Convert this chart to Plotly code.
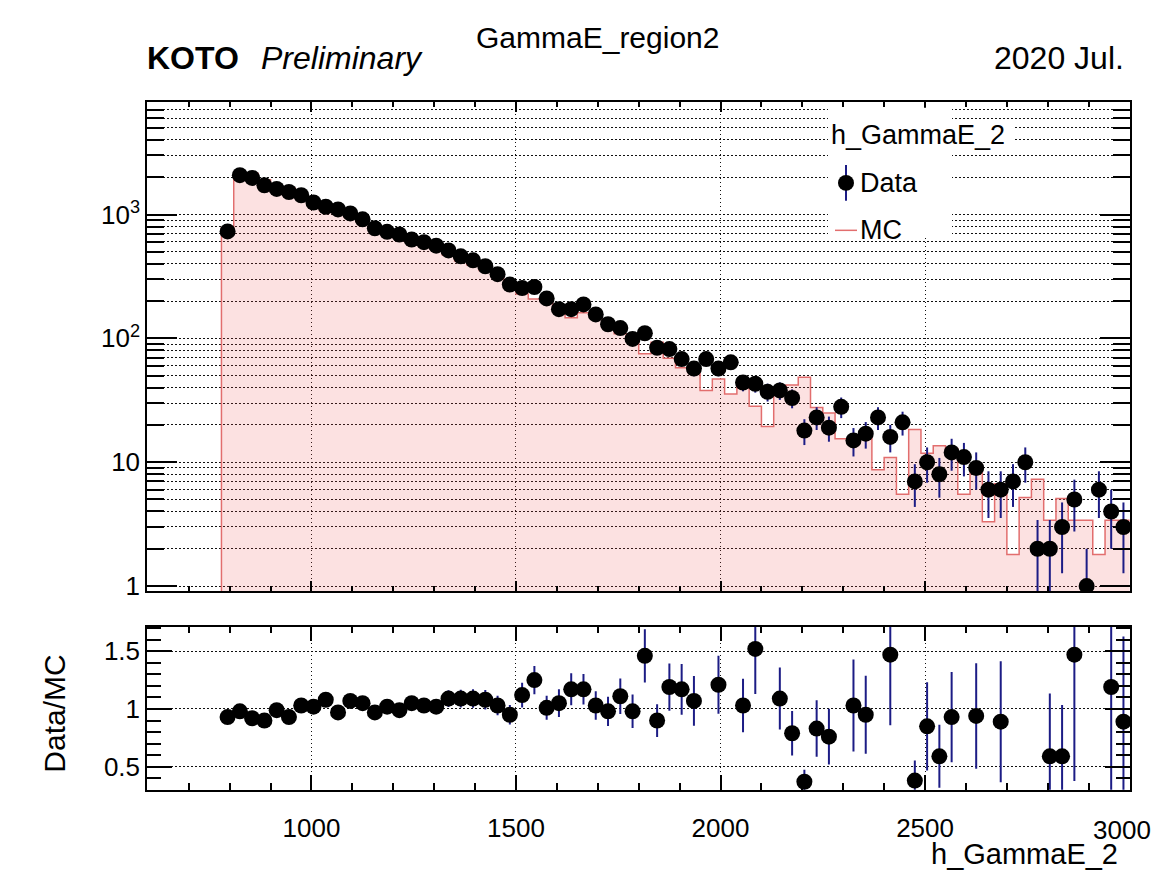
import math
import plotly.graph_objects as go

# ---------------- data ----------------
bin_edges = list(range(780, 3001, 30))          # 74 bins of width 30
bin_centers = [(a + b) / 2 for a, b in zip(bin_edges[:-1], bin_edges[1:])]

data = [730, 2080, 1975, 1720, 1610, 1520, 1430, 1250, 1155, 1100,
        1020, 915, 775, 725, 690, 628, 598, 560, 513, 460,
        427, 382, 330, 272, 255, 260, 210, 172, 172, 188,
        156, 130, 121, 99, 110, 84, 82, 68, 57, 68,
        57, 64, 44, 43, 37, 38, 33, 18, 23, 19,
        28, 15, 17, 23, 16, 21, 7, 10, 8, 12,
        11, 9, 6, 6, 7, 10, 2, 2, 3, 5,
        1, 6, 4, 3]

mc = [785, 2122, 2147, 1911, 1626, 1634, 1388, 1225, 1069, 1134,
      953, 871, 799, 711, 697, 598, 581, 549, 471, 422,
      392, 354, 320, 286, 228, 208, 208, 164, 147, 161,
      151, 133, 109, 101, 75, 93, 69, 58, 53, 38,
      47, 35.5, 43, 28.3, 19.4, 35, 42, 48.6, 27.7, 25,
      15.5, 14.6, 17.9, 8.7, 10.9, 5.5, 18.4, 11.8, 13.6, 12.9,
      5.5, 9.6, 3.3, 6.7, 1.8, 5.2, 7.3, 3.4, 5.1, 3.4,
      3.4, 1.8, 3.4, 3.4]

# Data/MC as drawn (None = outside the displayed range, not drawn)
ratio = [0.93, 0.98, 0.92, 0.90, 0.99, 0.93, 1.03, 1.02, 1.08, 0.97,
         1.07, 1.05, 0.97, 1.02, 0.99, 1.05, 1.03, 1.02, 1.09, 1.09,
         1.09, 1.08, 1.03, 0.95, 1.12, 1.25, 1.01, 1.05, 1.17, 1.17,
         1.03, 0.98, 1.11, 0.98, 1.46, 0.90, 1.19, 1.17, 1.07, None,
         1.21, None, 1.03, 1.52, None, 1.09, 0.79, 0.37, 0.83, 0.76,
         None, 1.03, 0.95, None, 1.47, None, 0.38, 0.85, 0.59, 0.93,
         None, 0.94, None, 0.89, None, None, None, 0.59, 0.59, 1.47,
         None, None, 1.19, 0.89]

MC_WEIGHT = 1.2   # effective MC event weight used for its statistical error

x_ticks = [1000, 1500, 2000, 2500, 3000]
x_tick_labels = ["1000", "1500", "2000", "2500", "3000"]
y_main_ticks = [1, 10, 100, 1000]
y_main_labels = ["1", "10", "10<sup>2</sup>", "10<sup>3</sup>"]
y_ratio_ticks = [0.5, 1, 1.5]
y_ratio_labels = ["0.5", "1", "1.5"]

# ---------------- layout helpers ----------------
W, H = 1158, 872
FONT = "Liberation Sans"
def fx(p): return p / W
def fy(p): return 1 - p / H

DATA_ERR_COLOR = "#1c1c85"
MC_LINE = "rgb(226,110,110)"
MC_FILL = "rgba(240,80,80,0.17)"
GRID = "#111111"
GRID_DASH = "1.5px,2.5px"
MSIZE = 16
X_RANGE = [598, 3001]

fig = go.Figure()

# MC histogram: filled step polygon + outline
YBOT = 0.3
px_, py_ = [bin_edges[0]], [YBOT]
for lo, hi, m in zip(bin_edges[:-1], bin_edges[1:], mc):
    px_ += [lo, hi]
    py_ += [m, m]
fig.add_trace(go.Scatter(x=px_ + [bin_edges[-1]], y=py_ + [YBOT], mode="lines",
                         fill="toself", fillcolor=MC_FILL, line=dict(width=0),
                         hoverinfo="skip", showlegend=False, xaxis="x", yaxis="y"))
fig.add_trace(go.Scatter(x=px_, y=py_, mode="lines",
                         line=dict(color=MC_LINE, width=1.5),
                         hoverinfo="skip", showlegend=False, xaxis="x", yaxis="y"))

# Data points with Poisson errors
err_up = [math.sqrt(n) for n in data]
err_dn = [min(math.sqrt(n), n - 0.001) for n in data]
fig.add_trace(go.Scatter(x=bin_centers, y=data, mode="markers",
                         marker=dict(color="black", size=MSIZE),
                         error_y=dict(type="data", array=err_up, arrayminus=err_dn,
                                      color=DATA_ERR_COLOR, thickness=2, width=0),
                         showlegend=False, xaxis="x", yaxis="y"))

# Ratio
r_err = [None if r is None else r * math.sqrt(1.0 / d + MC_WEIGHT / m)
         for r, d, m in zip(ratio, data, mc)]
fig.add_trace(go.Scatter(x=bin_centers, y=ratio, mode="markers",
                         marker=dict(color="black", size=MSIZE),
                         error_y=dict(type="data", array=r_err,
                                      color=DATA_ERR_COLOR, thickness=2, width=0),
                         showlegend=False, xaxis="x2", yaxis="y2"))

tickfont = dict(family=FONT, size=26, color="black")
common_x = dict(range=X_RANGE, tickmode="array", tickvals=x_ticks,
                ticks="inside", mirror="allticks", showline=True, linecolor="black",
                linewidth=1.5, tickcolor="black", tickwidth=1.5,
                showgrid=True, gridcolor=GRID, griddash=GRID_DASH, gridwidth=1,
                zeroline=False, tickfont=tickfont)

# the last label (3000) sits at the page edge; it is drawn as an annotation
ratio_ticktext = x_tick_labels[:-1] + [""]

fig.update_layout(
    width=W, height=H,
    margin=dict(l=0, r=0, t=0, b=0),
    paper_bgcolor="white", plot_bgcolor="white",
    showlegend=False,
    xaxis=dict(domain=[fx(147), fx(1130)], anchor="y", showticklabels=False,
               ticklen=10, minor=dict(ticks="inside", dtick=100, tick0=0, ticklen=5,
                                      tickcolor="black", tickwidth=1.5, showgrid=False),
               **common_x),
    yaxis=dict(domain=[fy(598), fy(103)], anchor="x", type="log",
               range=[-0.041, 3.910], tickmode="array", tickvals=y_main_ticks,
               ticktext=y_main_labels, ticks="inside", ticklen=30, tickwidth=1.5,
               tickcolor="black", mirror="allticks", showline=True, linecolor="black",
               linewidth=1.5, showgrid=True, gridcolor=GRID, griddash=GRID_DASH,
               minor=dict(ticks="inside", ticklen=17, tickwidth=1.5, tickcolor="black",
                          tickmode="array",
                          tickvals=[k * 10 ** e for e in range(0, 4) for k in range(2, 10)],
                          showgrid=True, gridcolor=GRID, griddash=GRID_DASH),
               zeroline=False, tickfont=tickfont, ticklabelstandoff=0),
    xaxis2=dict(domain=[fx(147), fx(1130)], anchor="y2", showticklabels=True,
                ticktext=ratio_ticktext,
                ticklen=15, minor=dict(ticks="inside", dtick=100, tick0=0, ticklen=7,
                                       tickcolor="black", tickwidth=1.5, showgrid=False),
                ticklabelstandoff=14, **common_x),
    yaxis2=dict(domain=[fy(799), fy(634)], anchor="x2", range=[0.3, 1.712],
                tickmode="array", tickvals=y_ratio_ticks, ticktext=y_ratio_labels,
                ticks="inside", ticklen=25, tickwidth=1.5, tickcolor="black",
                mirror="allticks", showline=True, linecolor="black", linewidth=1.5,
                showgrid=True, gridcolor=GRID, griddash=GRID_DASH,
                minor=dict(ticks="inside", dtick=0.1, tick0=0, ticklen=14,
                           tickcolor="black", tickwidth=1.5, showgrid=False),
                zeroline=False, tickfont=tickfont, ticklabelstandoff=0),
)

# ---------------- legend (drawn manually) ----------------
shapes = [
    dict(type="rect", xref="paper", yref="paper", x0=fx(828), x1=fx(952),
         y0=fy(240), y1=fy(109), fillcolor="white", line=dict(width=0), layer="above"),
    dict(type="rect", xref="paper", yref="paper", x0=fx(952), x1=fx(1013),
         y0=fy(150), y1=fy(123), fillcolor="white", line=dict(width=0), layer="above"),
    dict(type="line", xref="paper", yref="paper", x0=fx(846), x1=fx(846),
         y0=fy(203), y1=fy(167), line=dict(color=DATA_ERR_COLOR, width=2), layer="above"),
    dict(type="circle", xref="paper", yref="paper", x0=fx(838), x1=fx(854),
         y0=fy(193), y1=fy(177), fillcolor="black", line=dict(width=0), layer="above"),
    dict(type="line", xref="paper", yref="paper", x0=fx(835), x1=fx(857),
         y0=fy(233), y1=fy(233), line=dict(color=MC_LINE, width=1.5), layer="above"),
]
fig.update_layout(shapes=shapes)

def txt(s, x, y, size, xanchor="left", yanchor="middle", angle=0):
    fig.add_annotation(text=s, x=fx(x), y=fy(y), xref="paper", yref="paper",
                       showarrow=False, xanchor=xanchor, yanchor=yanchor,
                       textangle=angle, borderpad=0,
                       font=dict(family=FONT, size=size, color="black"))

txt("h_GammaE_2", 830, 137, 27)
txt("Data", 859, 185, 27)
txt("MC", 859, 233, 27)

txt("<b>KOTO</b>", 146, 59, 32)
txt("<i>Preliminary</i>", 260, 59, 32)
txt("2020 Jul.", 1125, 59, 32, xanchor="right")
txt("GammaE_region2", 597, 38, 30, xanchor="center")
txt(x_tick_labels[-1], 1152, 840, 26, xanchor="right")
txt("h_GammaE_2", 1119, 864, 29, xanchor="right")
txt("Data/MC", 55, 722, 30, xanchor="center", angle=-90)

fig.write_html("out.html")
